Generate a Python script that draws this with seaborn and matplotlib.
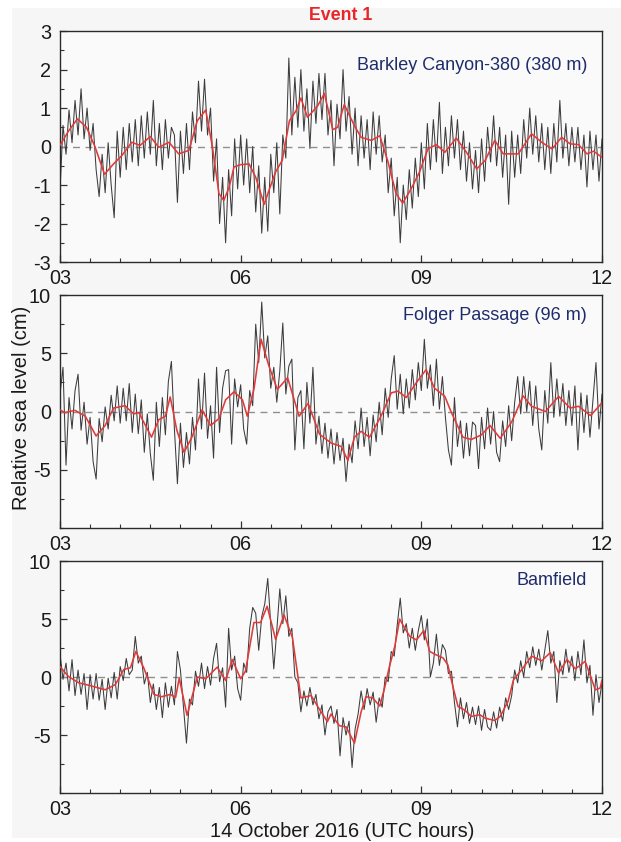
import numpy as np
import pandas as pd
import matplotlib
matplotlib.use("Agg")
import matplotlib.pyplot as plt
from matplotlib.patches import Rectangle
from matplotlib.ticker import MultipleLocator, FixedLocator
import seaborn as sns

# ---------------------------------------------------------------------------
# Data: 14 October 2016, 03-12 UTC, relative sea level (cm)
# raw records sampled every 3 minutes starting at 03:00; smoothed curves as
# (hour, value) pairs
# ---------------------------------------------------------------------------
START_HOUR = 3.0
STEP_HOURS = 0.05

BARKLEY_RAW = [
    -1.15, 0.55, -0.2, 0.95, 0.1, 1.2, 0.3, 1.5, 0.2, 1.0,
    -0.1, 0.6, -0.6, -1.3, -0.2, -1.2, 0.1, -1.0, -1.85, 0.4,
    -0.8, 0.5, -0.6, 0.6, -0.4, 0.7, -0.5, 0.8, -0.3, 0.9,
    -0.2, 1.2, -0.5, 0.6, -0.6, 0.7, -0.3, 0.5, 0.3, -1.45,
    0.4, -0.7, 0.6, -0.6, 0.9, 0.1, 1.7, 0.4, 1.75, 0.3,
    1.0, -0.9, 0.2, -2.0, -0.8, -2.5, -0.6, -1.8, 0.2, -1.1,
    0.3, -1.0, 0.2, -1.2, 0.0, -1.7, -0.5, -2.25, -0.8, -2.2,
    -0.2, -1.2, 0.1, -1.75, 0.3, -0.3, 2.3, 0.3, 1.8, 0.5,
    2.0, 0.4, 1.5, -0.05, 1.7, 0.6, 1.9, 0.7, 1.9, 0.3,
    1.2, -0.5, 1.1, 0.2, 2.0, 0.4, 1.3, -0.2, 1.0, -0.5,
    0.8, -0.3, 0.7, -0.6, 0.9, -0.2, 0.8, -0.4, 0.3, -1.2,
    -0.3, -1.8, -0.8, -2.5, -1.0, -1.9, -0.6, -1.6, -0.3, -1.3,
    0.1, -1.1, 0.6, -0.6, 0.7, -0.4, 1.15, -0.7, 0.5, -0.5,
    0.8, -0.3, 0.7, -0.6, 0.4, -0.9, 0.1, -1.1, -0.1, -1.2,
    0.2, -0.9, 0.5, -0.4, 0.8, -0.5, 0.5, -0.8, 0.3, -1.5,
    0.4, -0.8, 0.3, -0.7, 0.7, -0.3, 1.0, -0.2, 0.8, -0.4,
    0.6, -0.6, 0.5, -0.7, 0.6, -0.4, 1.2, -0.3, 0.6, -0.5,
    0.5, -0.4, 0.5, -0.6, 0.3, -1.05, 0.4, -0.6, 0.3, -0.9,
    0.2,
]

FOLGER_RAW = [
    1.5, 3.8, -4.6, 1.2, -1.5, 1.8, 3.2, -1.6, 0.8, -2.8,
    -0.5, -4.3, -5.8, -0.6, -2.6, 0.4, -1.5, 1.4, -0.8, 2.2,
    -1.0, 2.0, -0.8, 2.4, -1.8, 1.5, -1.9, 1.0, -3.5, -0.2,
    -3.6, -5.9, 0.8, -3.0, 1.2, -2.0, 2.6, 4.3, -1.5, -6.2,
    -1.0, -4.8, -1.8, -4.5, -0.5, -3.3, 2.8, -1.5, 3.3, -2.3,
    0.5, -4.0, 3.8, -1.8, 2.0, 3.5, 3.6, -2.8, 2.8, 0.4,
    2.3, -1.5, -2.8, 1.8, 0.5, 7.5, 4.2, 9.4, 4.6, 6.5,
    2.0, 3.8, 0.8, 3.5, 7.6, 1.5, 3.9, 4.5, -3.3, 1.2,
    1.8, -3.2, 2.5, -1.0, 3.8, -2.8, -0.4, -3.6, -1.0, -4.0,
    -1.5, -4.5, -1.8, -4.2, -2.3, -6.0, -2.8, -4.4, -0.8, -3.2,
    0.3, -3.0, -0.5, -3.8, -0.3, -2.6, 0.8, -2.0, 2.0, -0.5,
    2.8, 4.8, 0.2, 3.2, -0.2, 2.8, 0.3, 3.6, 1.0, 4.2,
    1.8, 6.2, 2.0, 4.0, 0.5, 4.5, 0.2, 3.0, -0.5, -3.3,
    -4.6, 1.2, -3.0, -0.8, -4.0, -1.0, -3.8, -0.9, -1.2, -4.9,
    -0.5, -3.2, 0.3, -2.8, 0.0, -3.5, -4.3, -0.8, -3.0, 0.5,
    -2.5, 0.8, 3.0, -0.2, 3.0, 0.0, 2.6, -1.2, 2.2, -1.5,
    -3.3, 1.8, -1.0, 4.2, -0.5, 2.8, -0.4, 2.4, -1.2, 1.8,
    -1.2, 2.2, -3.3, 1.6, -1.8, 1.4, -2.2, 1.0, 4.2, -1.5,
    1.5,
]

BAMFIELD_RAW = [
    2.0, -0.2, 1.2, -1.2, 1.5, -1.6, 0.6, -1.5, 0.3, -2.8,
    0.2, -1.9, 0.3, -2.0, -0.2, -2.8, -0.1, -1.8, 0.4, -1.9,
    0.9, -0.3, 1.6, 0.2, 0.6, 3.5, 1.2, 1.8, -0.6, 0.4,
    -2.2, -0.6, -2.8, -0.9, -3.5, -0.5, -2.6, -0.8, -2.4, 2.2,
    0.6, -2.6, -5.7, -1.9, -2.4, 0.5, -0.8, 1.2, -1.0, 0.9,
    -0.7, 1.6, 2.9, -0.4, 0.8, -2.6, 4.2, 0.6, 1.8, -1.0,
    -2.0, 1.2, 0.4, 4.2, 6.0, 5.5, 2.3, 5.2, 6.3, 8.5,
    4.5, 0.7, 4.0, 7.6, 4.6, 7.0, 3.5, 4.2, 0.0, -0.5,
    -3.0, -1.2, -2.5, -0.9, -2.4, -1.5, -3.6, -2.4, -5.0, -3.0,
    -2.5, -4.0, -2.8, -6.8, -3.5, -5.0, -3.8, -7.8, -4.5, -3.2,
    -1.2, -2.8, -1.0, -2.4, -1.3, -3.9, -1.8, -2.6, 0.0, -0.4,
    2.2, 1.8, 4.5, 6.8, 3.8, 4.6, 2.5, 4.2, 2.3, 4.0,
    5.3, 3.2, 5.0, 0.0, 1.2, 3.7, 1.0, 2.8, 2.3, 0.3,
    0.5, -2.2, -4.3, -1.8, -3.6, -2.2, -4.0, -2.6, -4.1, -2.5,
    -4.6, -2.8, -4.3, -4.6, -3.0, -4.4, -2.6, -3.8, -1.8, -2.8,
    -1.6, 0.6, -0.5, 1.4, 0.0, 2.2, 0.8, 2.6, 1.0, 2.4,
    0.6, 2.3, 4.0, 1.2, 2.2, -2.2, 1.4, 0.2, 2.4, 0.4,
    1.8, -0.3, 2.2, 0.2, 3.2, -0.5, 1.0, -3.3, 0.2, -2.2,
    -0.5,
]

BARKLEY_SMOOTH_H = [
    3.0, 3.14, 3.29, 3.44, 3.58, 3.74, 3.89, 4.03, 4.19, 4.33,
    4.5, 4.64, 4.81, 4.97, 5.14, 5.28, 5.42, 5.53, 5.64, 5.72,
    5.81, 5.89, 6.0, 6.14, 6.25, 6.39, 6.47, 6.58, 6.69, 6.81,
    6.92, 7.0, 7.11, 7.28, 7.39, 7.53, 7.61, 7.72, 7.89, 8.0,
    8.17, 8.31, 8.44, 8.58, 8.69, 8.83, 8.97, 9.11, 9.25, 9.39,
    9.58, 9.75, 9.92, 10.06, 10.22, 10.36, 10.61, 10.83, 11.0, 11.17,
    11.33, 11.47, 11.61, 11.75, 11.86, 12.0,
]
BARKLEY_SMOOTH = [
    0.03, 0.4, 0.72, 0.5, 0.0, -0.72, -0.45, -0.23, 0.11, 0.03,
    0.26, -0.02, 0.11, -0.19, -0.1, 0.67, 0.95, 0.0, -1.22, -1.4,
    -1.05, -0.53, -0.47, -0.45, -0.8, -1.5, -1.14, -0.66, -0.36, 0.67,
    0.93, 1.26, 0.76, 1.06, 1.38, 0.44, 0.5, 1.09, 0.54, 0.24,
    0.16, 0.28, -0.36, -1.22, -1.47, -1.1, -0.66, -0.06, 0.05, -0.15,
    0.22, -0.15, -0.58, -0.36, 0.16, -0.19, -0.19, 0.33, 0.11, -0.06,
    0.24, 0.07, 0.05, -0.19, -0.12, -0.28,
]

FOLGER_SMOOTH_H = [
    3.0, 3.08, 3.25, 3.42, 3.6, 3.75, 3.89, 4.08, 4.22, 4.31,
    4.52, 4.64, 4.75, 4.83, 4.94, 5.06, 5.19, 5.36, 5.5, 5.64,
    5.75, 5.89, 6.03, 6.11, 6.22, 6.34, 6.47, 6.61, 6.78, 6.97,
    7.12, 7.31, 7.5, 7.67, 7.78, 7.89, 8.0, 8.14, 8.33, 8.5,
    8.61, 8.75, 8.92, 9.08, 9.22, 9.39, 9.5, 9.69, 9.83, 10.0,
    10.14, 10.31, 10.5, 10.69, 10.83, 11.06, 11.28, 11.47, 11.61, 11.81,
    12.0,
]
FOLGER_SMOOTH = [
    0.15, -0.1, 0.1, -0.4, -2.1, -1.2, 0.3, 0.5, -0.2, -0.1,
    -2.2, -0.7, -0.4, 1.25, -1.6, -3.5, -2.2, 0.15, -1.2, -0.6,
    1.0, 1.7, 1.0, -0.4, 1.9, 6.2, 3.9, 1.9, 2.9, -0.4,
    0.7, -1.95, -2.7, -3.0, -4.2, -2.2, -1.7, -2.2, -0.4, 1.6,
    1.75, 1.2, 2.5, 3.6, 2.0, 1.3, -0.1, -2.2, -2.4, -2.0,
    -1.2, -2.3, -0.9, 1.35, 0.45, 0.0, 1.3, 0.3, 0.45, -0.35,
    0.75,
]

BAMFIELD_SMOOTH_H = [
    3.0, 3.14, 3.31, 3.47, 3.75, 3.92, 4.06, 4.17, 4.26, 4.39,
    4.56, 4.69, 4.83, 4.92, 4.98, 5.11, 5.28, 5.42, 5.61, 5.75,
    5.86, 6.0, 6.08, 6.22, 6.33, 6.44, 6.58, 6.72, 6.86, 7.0,
    7.17, 7.31, 7.44, 7.5, 7.64, 7.75, 7.89, 8.0, 8.08, 8.19,
    8.31, 8.39, 8.47, 8.56, 8.64, 8.72, 8.81, 8.92, 9.04, 9.14,
    9.25, 9.36, 9.44, 9.53, 9.61, 9.72, 9.83, 9.97, 10.06, 10.22,
    10.31, 10.44, 10.53, 10.67, 10.83, 11.0, 11.14, 11.28, 11.42, 11.56,
    11.72, 11.89, 11.97, 12.0,
]
BAMFIELD_SMOOTH = [
    0.9, 0.05, -0.5, -0.7, -1.1, -0.65, 0.65, 0.8, 2.2, 0.8,
    -1.5, -1.7, -1.5, -1.75, -0.1, -3.3, 0.0, -0.15, 0.85, -0.3,
    1.5, -0.15, 0.5, 4.7, 4.7, 6.1, 3.25, 5.35, 3.4, -1.8,
    -1.6, -2.8, -3.85, -3.2, -4.2, -4.3, -5.7, -3.0, -1.7, -1.8,
    -2.5, -0.95, 0.9, 2.65, 5.0, 4.25, 3.5, 3.2, 4.0, 2.2,
    1.9, 1.65, 1.05, -0.95, -2.55, -2.85, -3.4, -3.25, -3.55, -3.75,
    -3.4, -2.1, -0.25, 0.65, 1.8, 1.4, 2.1, 0.35, 1.5, 0.7,
    1.35, -1.1, -0.95, -0.25,
]

STATIONS = ["Barkley Canyon-380 (380 m)", "Folger Passage (96 m)", "Bamfield"]
X_TICKS = [3, 6, 9, 12]
X_TICK_LABELS = ["03", "06", "09", "12"]

# ---------------------------------------------------------------------------
sns.set_theme(style="ticks")
plt.rcParams["font.family"] = ["Liberation Sans", "DejaVu Sans"]

RAW_COLOR = "#3c3c3c"
SMOOTH_COLOR = "#e03a3a"
LABEL_COLOR = "#1f2c6b"
PAGE_BG = "#f6f6f6"
AX_BG = "#fafafa"

fig = plt.figure(figsize=(6.21, 8.42), dpi=100)
fig.patch.set_facecolor("white")
# light grey page behind the panels, with a thin white margin left and bottom
fig.add_artist(Rectangle((12 / 621, 4 / 842), 1 - 12 / 621, 830 / 842,
                         transform=fig.transFigure, facecolor=PAGE_BG,
                         edgecolor="none", zorder=-10))

panels = [
    dict(raw=BARKLEY_RAW, sh=BARKLEY_SMOOTH_H, sv=BARKLEY_SMOOTH,
         rect=[0.0966, 0.6888, 0.8728, 0.2743], ylim=(-3, 3),
         major=[-3, -2, -1, 0, 1, 2, 3], minor=0.5, label_y=0.85),
    dict(raw=FOLGER_RAW, sh=FOLGER_SMOOTH_H, sv=FOLGER_SMOOTH,
         rect=[0.0966, 0.3729, 0.8728, 0.2767], ylim=(-10, 10),
         major=[-5, 0, 5, 10], minor=2.5, label_y=0.914),
    dict(raw=BAMFIELD_RAW, sh=BAMFIELD_SMOOTH_H, sv=BAMFIELD_SMOOTH,
         rect=[0.0966, 0.0582, 0.8728, 0.2755], ylim=(-10, 10),
         major=[-5, 0, 5, 10], minor=2.5, label_y=0.918),
]

for name, p in zip(STATIONS, panels):
    ax = fig.add_axes(p["rect"])
    ax.set_facecolor(AX_BG)

    hours = START_HOUR + STEP_HOURS * np.arange(len(p["raw"]))
    raw_df = pd.DataFrame({"hour": hours, "level": p["raw"]})
    smooth_df = pd.DataFrame({"hour": p["sh"], "level": p["sv"]})

    ax.axhline(0, color="#8f8f8f", lw=1.0, dashes=(5, 4), zorder=1)
    sns.lineplot(data=raw_df, x="hour", y="level", ax=ax, color=RAW_COLOR,
                 lw=0.75, estimator=None, sort=False, zorder=2)
    sns.lineplot(data=smooth_df, x="hour", y="level", ax=ax,
                 color=SMOOTH_COLOR, lw=1.15, estimator=None, sort=False,
                 zorder=3)

    ax.set_xlim(3, 12)
    ax.set_ylim(*p["ylim"])
    ax.xaxis.set_major_locator(FixedLocator(X_TICKS))
    ax.set_xticklabels(X_TICK_LABELS)
    ax.xaxis.set_minor_locator(MultipleLocator(0.5))
    ax.yaxis.set_major_locator(FixedLocator(p["major"]))
    ax.set_yticklabels([f"{v:g}" for v in p["major"]])
    ax.yaxis.set_minor_locator(MultipleLocator(p["minor"]))
    ax.tick_params(which="both", direction="in", top=False, right=False,
                   colors="#333333", labelcolor="#1a1a1a")
    ax.tick_params(which="major", length=5, width=0.9, labelsize=14.3)
    ax.tick_params(axis="x", which="major", pad=5.3)
    ax.tick_params(axis="y", which="major", pad=6.5)
    ax.tick_params(which="minor", length=3, width=0.8)
    ax.set_xlabel("")
    ax.set_ylabel("")
    for s in ax.spines.values():
        s.set_color("#2a2a2a")
        s.set_linewidth(1.0)

    ax.text(0.9723, p["label_y"], name, transform=ax.transAxes,
            ha="right", va="center", fontsize=13, color=LABEL_COLOR)

fig.text(0.548, 0.981, "Event 1", ha="center", va="center", fontsize=12.8,
         fontweight="bold", color="#e8262a")
fig.text(0.034, 0.516, "Relative sea level (cm)", rotation=90, ha="center",
         va="center", fontsize=14.5, color="#1a1a1a")
fig.text(0.551, 0.013, "14 October 2016 (UTC hours)", ha="center",
         va="center", fontsize=14.4, color="#1a1a1a")

fig.savefig("out.png", dpi=100, facecolor="white")
